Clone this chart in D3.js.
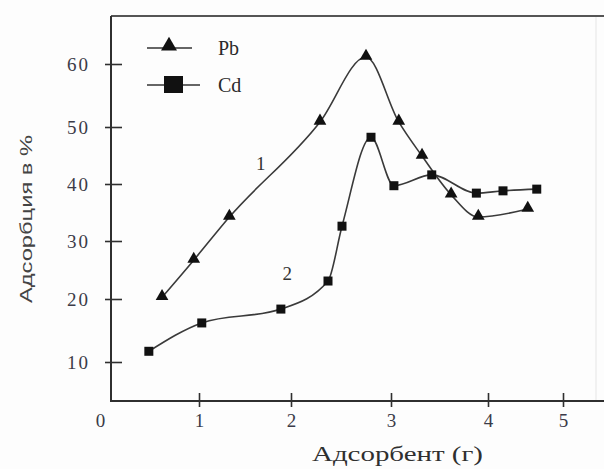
<!DOCTYPE html>
<html>
<head>
<meta charset="utf-8">
<script src="https://cdn.jsdelivr.net/npm/d3@7"></script>
<style>
  body { margin: 0; background: #fdfdfd; }
  svg { display: block; }
</style>
</head>
<body>
<div id="chart"></div>
<script>
let w = 604;
let h = 469;

// Pb (curve 1)
let pbX = [0.58, 0.94, 1.33, 2.29, 2.75, 3.08, 3.32, 3.62, 3.90, 4.53];
let pbY = [20.3, 26.7, 34.2, 50.8, 61.1, 50.8, 44.9, 38.1, 34.2, 35.6];
// Cd (curve 2)
let cdX = [0.43, 1.03, 1.89, 2.37, 2.51, 2.80, 3.03, 3.42, 3.88, 4.20, 4.65];
let cdY = [11.7, 16.2, 18.4, 23.1, 32.6, 48.2, 39.7, 41.6, 38.4, 38.8, 39.1];

let xTicks = [0, 1, 2, 3, 4, 5];
let yTicks = [10, 20, 30, 40, 50, 60];
let seriesNames = ["Pb", "Cd"];
let curveLabels = ["1", "2"];
let curveLabelX = [1.67, 1.96];
let curveLabelY = [43.7, 24.5];

let ink = "#2f2f2f";
let serif = "'Liberation Serif', 'Times New Roman', serif";

let svg = d3.select("#chart").append("svg").attr("width", w).attr("height", h);
svg.append("rect").attr("width", w).attr("height", h).attr("fill", "#fdfdfd");

// the scanned axes are not quite even, so the scales follow the tick marks
let xScale = d3.scaleLinear().domain(xTicks).range([111, 199, 291, 391, 488, 563]);
let yScale = d3.scaleLinear().domain(yTicks).range([362, 299, 241, 184, 127, 64]);

let plotLeft = 111, plotTop = 16, plotBottom = 401;

// frame
svg.append("line").attr("x1", 596).attr("x2", 596).attr("y1", plotTop).attr("y2", plotBottom)
    .attr("stroke", "#ececec").attr("stroke-width", 1.5);
svg.append("line").attr("x1", plotLeft).attr("x2", w).attr("y1", plotTop).attr("y2", plotTop)
    .attr("stroke", "#555").attr("stroke-width", 2);
svg.append("line").attr("x1", plotLeft).attr("x2", plotLeft).attr("y1", plotTop).attr("y2", plotBottom + 1)
    .attr("stroke", ink).attr("stroke-width", 2);
svg.append("line").attr("x1", plotLeft - 1).attr("x2", w).attr("y1", plotBottom).attr("y2", plotBottom)
    .attr("stroke", ink).attr("stroke-width", 2);

// x axis
let xAxis = d3.axisBottom(xScale).tickValues(xTicks).tickFormat(d3.format("d"));
let gx = svg.append("g").attr("id", "x-axis").attr("transform", "translate(0," + plotBottom + ")").call(xAxis);
gx.select(".domain").remove();
gx.selectAll(".tick line").attr("y1", -8).attr("y2", 6).attr("stroke", ink).attr("stroke-width", 1.6);
gx.selectAll(".tick text").attr("y", 26).attr("dy", 0)
    .attr("font-family", serif).attr("font-size", 19).attr("fill", "#3b3b48");
gx.selectAll(".tick").filter(d => d === 0).select("line").remove();
gx.selectAll(".tick").filter(d => d === 0).select("text").attr("x", -11);

// y axis
let yAxis = d3.axisLeft(yScale).tickValues(yTicks);
let gy = svg.append("g").attr("id", "y-axis").attr("transform", "translate(" + plotLeft + ",0)").call(yAxis);
gy.select(".domain").remove();
gy.selectAll(".tick line").attr("x1", -6).attr("x2", 11).attr("stroke", ink).attr("stroke-width", 1.6);
gy.selectAll(".tick text").attr("x", -21).attr("dy", "0.35em")
    .attr("font-family", serif).attr("font-size", 19).attr("letter-spacing", 2).attr("fill", "#3b3b48");

// axis titles
svg.append("text")
    .attr("x", 312).attr("y", 461)
    .attr("font-family", serif).attr("font-size", 22).attr("fill", ink)
    .attr("textLength", 171).attr("lengthAdjust", "spacingAndGlyphs")
    .text("Адсорбент  (г)");

svg.append("text")
    .attr("transform", "translate(32,303) rotate(-90)")
    .attr("font-family", "'Liberation Sans', Arial, sans-serif").attr("font-size", 17).attr("fill", "#444")
    .attr("textLength", 168).attr("lengthAdjust", "spacingAndGlyphs")
    .text("Адсорбция  в  %");

// curves
let line = d3.line().x(d => xScale(d[0])).y(d => yScale(d[1])).curve(d3.curveMonotoneX);
let pb = pbX.map((v, i) => [v, pbY[i]]);
let cd = cdX.map((v, i) => [v, cdY[i]]);

svg.append("path").datum(pb).attr("d", line).attr("fill", "none").attr("stroke", "#3a3a3a").attr("stroke-width", 1.6);
svg.append("path").datum(cd).attr("d", line).attr("fill", "none").attr("stroke", "#3a3a3a").attr("stroke-width", 1.6);

let tri = d3.symbol().type(d3.symbolTriangle).size(70);
svg.selectAll(".pb").data(pb).enter().append("path")
    .attr("class", "pb")
    .attr("d", tri)
    .attr("transform", d => "translate(" + xScale(d[0]) + "," + (yScale(d[1]) - 1) + ")")
    .attr("fill", "#111");

svg.selectAll(".cd").data(cd).enter().append("rect")
    .attr("class", "cd")
    .attr("x", d => xScale(d[0]) - 4.5).attr("y", d => yScale(d[1]) - 4.5)
    .attr("width", 9).attr("height", 9)
    .attr("fill", "#111");

// curve numbers
svg.selectAll(".num").data(curveLabels).enter().append("text")
    .attr("class", "num")
    .attr("x", (d, i) => xScale(curveLabelX[i])).attr("y", (d, i) => yScale(curveLabelY[i]))
    .attr("text-anchor", "middle").attr("dy", "0.35em")
    .attr("font-family", serif).attr("font-size", 19).attr("fill", "#333")
    .text(d => d);

// legend
let legendY = [48, 85];
svg.selectAll(".leg-line").data(seriesNames).enter().append("line")
    .attr("x1", 147).attr("x2", (d, i) => i === 0 ? 192 : 200)
    .attr("y1", (d, i) => legendY[i]).attr("y2", (d, i) => legendY[i])
    .attr("stroke", "#333").attr("stroke-width", 1.6);
svg.append("path").attr("d", d3.symbol().type(d3.symbolTriangle).size(110))
    .attr("transform", "translate(169," + (legendY[0] - 2) + ")").attr("fill", "#111");
svg.append("rect").attr("x", 164).attr("y", legendY[1] - 9).attr("width", 19).attr("height", 17).attr("fill", "#111");
svg.selectAll(".leg-text").data(seriesNames).enter().append("text")
    .attr("x", 218).attr("y", (d, i) => legendY[i] + 7)
    .attr("font-family", serif).attr("font-size", 20).attr("fill", "#2a2a2a")
    .text(d => d);
</script>
</body>
</html>
